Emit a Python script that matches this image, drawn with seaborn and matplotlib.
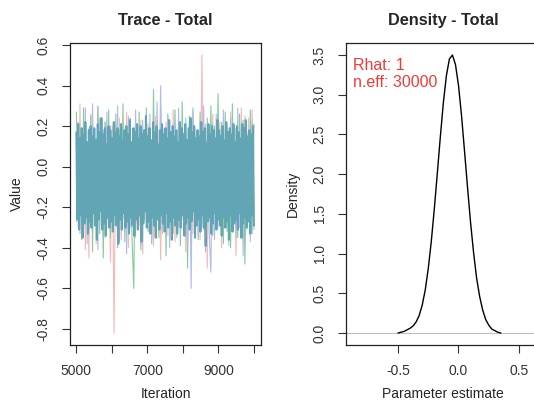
import matplotlib
matplotlib.use("Agg")
import matplotlib.pyplot as plt
import seaborn as sns
import numpy as np
import pandas as pd

# MCMC chains for parameter "Total", iterations 5000..10000 (thinned)
chain_red = [
    0.12, -0.3, 0.31, -0.22, 0.18, -0.41, 0.1, -0.45, 0.26, -0.2, 0.15, -0.38, 0.29, -0.25, 0.08, -0.33, 0.22, -0.28, 0.14, -0.47,
    0.2, -0.82, 0.17, -0.3, 0.24, -0.36, 0.11, -0.26, 0.27, -0.4, 0.13, -0.24, 0.19, -0.35, 0.09, -0.29, 0.23, -0.43, 0.16, -0.27,
    0.21, -0.32, 0.12, -0.39, 0.25, -0.23, 0.18, -0.46, 0.1, -0.28, 0.22, -0.34, 0.15, -0.25, 0.28, -0.37, 0.14, -0.3, 0.2, -0.26,
    0.17, -0.42, 0.11, -0.29, 0.24, -0.33, 0.19, -0.24, 0.13, -0.36, 0.55, -0.31, 0.21, -0.5, 0.16, -0.27, 0.26, -0.35, 0.12, -0.3,
    0.22, -0.4, 0.18, -0.25, 0.14, -0.33, 0.27, -0.28, 0.2, -0.44, 0.15, -0.26, 0.29, -0.37, 0.17, -0.31, 0.24, -0.29, 0.28, -0.22,
]
chain_green = [
    0.27, -0.24, 0.14, -0.36, 0.29, -0.28, 0.11, -0.31, 0.25, -0.42, 0.19, -0.27, 0.3, -0.33, 0.16, -0.45, 0.22, -0.26, 0.28, -0.35,
    0.13, -0.29, 0.26, -0.4, 0.18, -0.25, 0.31, -0.37, 0.15, -0.3, 0.24, -0.34, -0.6, 0.2, -0.28, 0.27, -0.41, 0.12, -0.26, 0.29,
    -0.32, 0.17, -0.38, 0.38, -0.27, 0.23, -0.35, 0.3, -0.24, 0.19, -0.44, 0.26, -0.29, 0.14, -0.33, 0.28, -0.25, 0.21, -0.39, 0.32,
    -0.28, 0.16, -0.5, 0.25, -0.31, 0.29, -0.26, 0.18, -0.36, 0.27, -0.3, 0.13, -0.42, 0.24, -0.27, 0.3, -0.34, 0.2, -0.29, 0.36,
    -0.25, 0.22, -0.38, 0.27, -0.32, 0.15, -0.4, 0.31, -0.28, 0.19, -0.35, 0.26, -0.3, 0.23, -0.48, 0.17, -0.27, 0.28, -0.33, 0.21,
]
chain_blue = [
    -0.27, 0.22, -0.33, 0.16, -0.25, 0.29, -0.38, 0.19, -0.3, 0.31, -0.26, 0.14, -0.41, 0.24, -0.29, 0.18, -0.35, 0.27, -0.23, 0.2,
    -0.32, 0.15, -0.28, 0.3, -0.37, 0.21, -0.26, 0.17, -0.43, 0.25, -0.3, 0.12, -0.34, 0.28, -0.27, 0.19, -0.39, 0.23, -0.25, 0.16,
    -0.31, 0.26, -0.36, 0.2, -0.28, 0.32, -0.24, 0.4, -0.33, 0.18, -0.29, 0.25, -0.4, 0.14, -0.27, 0.22, -0.35, 0.29, -0.26, 0.17,
    -0.32, 0.24, -0.38, 0.19, -0.6, 0.27, -0.3, 0.15, -0.34, 0.23, -0.28, 0.3, -0.42, 0.18, -0.31, -0.52, 0.21, -0.36, 0.26, -0.25,
    0.16, -0.33, 0.28, -0.29, 0.2, -0.39, 0.24, -0.27, 0.13, -0.35, 0.29, -0.3, 0.19, -0.44, 0.25, -0.26, 0.17, -0.37, 0.22, -0.31,
]
chain_teal = [
    0.17, -0.26, 0.21, -0.31, 0.14, -0.24, 0.19, -0.35, 0.16, -0.28, 0.22, -0.25, 0.12, -0.33, 0.18, -0.27, 0.2, -0.3, 0.15, -0.23,
    0.19, -0.29, 0.13, -0.36, 0.21, -0.26, 0.17, -0.22, 0.24, -0.31, 0.16, -0.28, 0.19, -0.34, 0.11, -0.25, 0.2, -0.3, 0.18, -0.27,
    0.14, -0.32, 0.22, -0.24, 0.17, -0.29, 0.19, -0.38, 0.15, -0.26, 0.21, -0.31, 0.13, -0.23, 0.18, -0.3, 0.2, -0.27, 0.16, -0.33,
    0.23, -0.25, 0.12, -0.29, 0.19, -0.34, 0.17, -0.26, 0.21, -0.31, 0.14, -0.24, 0.2, -0.37, 0.16, -0.28, 0.18, -0.22, 0.25, -0.3,
    0.15, -0.27, 0.19, -0.33, 0.13, -0.25, 0.22, -0.29, 0.17, -0.35, 0.2, -0.26, 0.11, -0.31, 0.18, -0.24, 0.21, -0.28, 0.16, -0.32,
    0.19, -0.23, 0.14, -0.3, 0.23, -0.27, 0.17, -0.36, 0.2, -0.25, 0.15, -0.29, 0.18, -0.33, 0.12, -0.26, 0.22, -0.3, 0.19, -0.24,
    0.16, -0.34, 0.21, -0.28, 0.13, -0.25, 0.19, -0.31, 0.24, -0.27, 0.17, -0.22, 0.2, -0.35, 0.14, -0.29, 0.18, -0.26, 0.15, -0.32,
    0.22, -0.24, 0.17, -0.3, 0.19, -0.39, 0.12, -0.27, 0.21, -0.25, 0.16, -0.33, 0.2, -0.28, 0.18, -0.23, 0.14, -0.31, 0.23, -0.26,
    0.18, -0.29, 0.15, -0.34, 0.2, -0.25, 0.13, -0.3, 0.22, -0.27, 0.17, -0.36, 0.19, -0.24, 0.16, -0.32, 0.21, -0.28, 0.12, -0.26,
    0.2, -0.31, 0.17, -0.23, 0.14, -0.35, 0.21, -0.28, 0.19, -0.25, 0.23, -0.3, 0.15, -0.27, 0.18, -0.33, 0.16, -0.24, 0.2, -0.29,
]
chain_names = ["red", "green", "blue"]
chain_colors = ["#f7b8b8", "#86cc9c", "#b4b9f0"]
teal_color = "#62a5b5"
iter_start, iter_end = 5000, 10000

# posterior density of "Total"
dens_x = [-0.5, -0.475, -0.45, -0.425, -0.4, -0.375, -0.35, -0.325, -0.3, -0.275, -0.25, -0.225,
          -0.2, -0.175, -0.15, -0.125, -0.1, -0.075, -0.05, -0.025, 0.0, 0.025, 0.05, 0.075,
          0.1, 0.125, 0.15, 0.175, 0.2, 0.225, 0.25, 0.275, 0.3, 0.325, 0.35]
dens_y = [0.0, 0.01, 0.02, 0.04, 0.06, 0.09, 0.14, 0.22, 0.35, 0.54, 0.81, 1.15,
          1.56, 2.01, 2.47, 2.9, 3.24, 3.45, 3.5, 3.38, 3.12, 2.74, 2.29, 1.83,
          1.39, 1.01, 0.69, 0.46, 0.29, 0.17, 0.1, 0.05, 0.03, 0.01, 0.0]
rhat = "1"
n_eff = "30000"

trace_xticks = [5000, 6000, 7000, 8000, 9000, 10000]
trace_xticklabels = ["5000", "", "7000", "", "9000", ""]
trace_yticks = [-0.8, -0.6, -0.4, -0.2, 0.0, 0.2, 0.4, 0.6]
dens_xticks = [-0.5, 0.0, 0.5]
dens_yticks = [0.0, 0.5, 1.0, 1.5, 2.0, 2.5, 3.0, 3.5]

sns.set_style("white")
plt.rcParams["font.family"] = ["Liberation Sans", "DejaVu Sans"]

frames = []
for name, vals in zip(chain_names, [chain_red, chain_green, chain_blue]):
    frames.append(pd.DataFrame({
        "iteration": np.linspace(iter_start, iter_end, len(vals)),
        "value": vals,
        "chain": name,
    }))
trace_df = pd.concat(frames, ignore_index=True)
teal_df = pd.DataFrame({
    "iteration": np.linspace(iter_start, iter_end, len(chain_teal)),
    "value": chain_teal,
})

fig = plt.figure(figsize=(5.34, 4.05), dpi=100)
ax1 = fig.add_axes([70 / 534, 60 / 405, 191 / 534, 302 / 405])
ax2 = fig.add_axes([346 / 534, 60 / 405, 194 / 534, 302 / 405])

# trace panel: faint chains underneath, last chain on top
sns.lineplot(data=trace_df, x="iteration", y="value", hue="chain", hue_order=chain_names,
             palette=chain_colors, lw=0.8, legend=False, ax=ax1)
sns.lineplot(data=teal_df, x="iteration", y="value", color=teal_color, lw=1.5, ax=ax1)
ax1.set_xlim(4820, 10200)
ax1.set_ylim(-0.879, 0.61)
ax1.set_xticks(trace_xticks)
ax1.set_xticklabels(trace_xticklabels)
ax1.set_yticks(trace_yticks)
ax1.set_yticklabels([f"{v:.1f}" for v in trace_yticks], rotation=90, va="center")
ax1.set_xlabel("Iteration", fontsize=10, labelpad=6)
ax1.set_ylabel("Value", fontsize=10, labelpad=9)
ax1.set_title("Trace - Total", fontweight="bold", fontsize=11.7, pad=13)

# density panel
ax2.axhline(0, color="#bebebe", lw=0.8)
sns.lineplot(x=dens_x, y=dens_y, color="black", lw=1.0, ax=ax2)
ax2.set_xlim(-0.93, 0.674)
ax2.set_ylim(-0.151, 3.651)
ax2.set_xticks(dens_xticks)
ax2.set_xticklabels([f"{v:.1f}" for v in dens_xticks])
ax2.set_yticks(dens_yticks)
ax2.set_yticklabels([f"{v:.1f}" for v in dens_yticks], rotation=90, va="center")
ax2.set_xlabel("Parameter estimate", fontsize=10, labelpad=6)
ax2.set_ylabel("Density", fontsize=10, labelpad=9)
ax2.set_title("Density - Total", fontweight="bold", fontsize=11.7, pad=13)
ax2.text(0.036, 0.927, f"Rhat: {rhat}", transform=ax2.transAxes, color="#f23a3a",
         fontsize=11.5, va="center", ha="left")
ax2.text(0.036, 0.868, f"n.eff: {n_eff}", transform=ax2.transAxes, color="#f23a3a",
         fontsize=11.5, va="center", ha="left")

for ax in (ax1, ax2):
    for sp in ax.spines.values():
        sp.set_visible(True)
        sp.set_color("#222222")
        sp.set_linewidth(0.9)
    ax.tick_params(direction="out", length=6, width=0.8, pad=8, labelsize=10,
                   colors="#333333", bottom=True, left=True)

fig.savefig("out.png", dpi=100)
